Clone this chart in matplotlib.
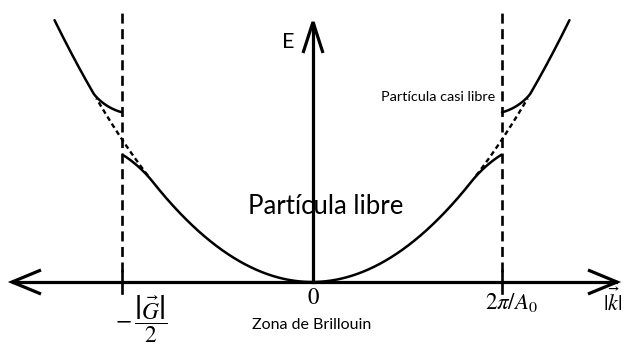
import numpy as np
import matplotlib
matplotlib.use("Agg")
import matplotlib.pyplot as plt

plt.rcParams['font.family'] = ['Lato', 'DejaVu Sans']
plt.rcParams['mathtext.fontset'] = 'stix'
plt.rcParams['lines.scale_dashes'] = False

# Band parameters (reduced units: zone boundary at k = 1, E = k^2)
zone_edges = [-1.0, 1.0]
gap_upper = 0.19      # rise of the upper band at the zone edge
gap_lower = 0.105     # drop of the lower band at the zone edge
reach_upper = 0.15    # k-distance over which the upper band rejoins the parabola
reach_lower = 0.16    # k-distance over which the lower band rejoins the parabola
shape_upper = 1.3
shape_lower = 1.8
k_top = 1.355         # where the drawn parabola ends
tick_positions = [-1.0, 0.0, 1.0]

# Pixel scale of one unit of k and E
PX_K = 190.0
PX_E = 142.6

def free(k):
    return k ** 2

def bend(d, gap, reach, shape):
    t = np.clip(1 - d / reach, 0, 1)
    return gap * t ** shape

fig = plt.figure(figsize=(6.26, 3.5), dpi=100)
ax = fig.add_axes([0, 0, 1, 1])
ax.set_xlim(-312 / PX_K, 314 / PX_K)
ax.set_ylim((282 - 350) / PX_E, 282 / PX_E)
ax.axis('off')

lw_axis = 2.3
lw_curve = 1.8

# Inner band: parabola with the lower band bending down at the zone edges
k_in = np.linspace(-1, 1, 800)
ax.plot(k_in, free(k_in) - bend(1 - np.abs(k_in), gap_lower, reach_lower, shape_lower),
        color='black', lw=lw_curve, solid_capstyle='butt')

# Outer bands: upper band starting above the gap, then back onto the parabola
for s in (-1, 1):
    k_out = s * np.linspace(1, k_top, 400)
    ax.plot(k_out, free(k_out) + bend(np.abs(k_out) - 1, gap_upper, reach_upper, shape_upper),
            color='black', lw=lw_curve, solid_capstyle='round')

    # Free-electron parabola through the gap region
    k_free = s * np.linspace(1 - reach_lower * 0.85, 1 + reach_upper * 0.9, 100)
    ax.plot(k_free, free(k_free), color='black', lw=1.7, linestyle=(0, (3.5, 2.5)))

# Zone boundaries
for kb in zone_edges:
    ax.plot([kb, kb], [(282 - 272) / PX_E, (282 - 12) / PX_E], color='black', lw=1.9,
            linestyle=(0, (7.2, 4.0)))
    ax.plot([kb, kb], [(282 - 293) / PX_E, (282 - 271) / PX_E], color='black', lw=1.9)

# Horizontal axis with open arrow heads at both ends
x_left, x_right = (12 - 312) / PX_K, (617 - 312) / PX_K
ax.plot([x_left + 1 / PX_K, x_right - 1 / PX_K], [0, 0], color='black', lw=lw_axis)
head_len, head_w = 29, 12
for tip, sgn in ((x_left, 1), (x_right, -1)):
    ax.plot([tip + sgn * head_len / PX_K, tip, tip + sgn * head_len / PX_K],
            [head_w / PX_E, 0, -head_w / PX_E], color='black', lw=lw_axis,
            solid_joinstyle='miter', solid_capstyle='butt')

# Vertical energy axis
x0 = 1 / PX_K
y_tip = (282 - 22) / PX_E
ax.plot([x0, x0], [0, y_tip - 2 / PX_E], color='black', lw=lw_axis)
ax.plot([x0 - 10 / PX_K, x0, x0 + 10 / PX_K],
        [y_tip - 31 / PX_E, y_tip, y_tip - 31 / PX_E], color='black', lw=lw_axis,
        solid_joinstyle='miter', solid_capstyle='butt')

# Labels
def px(x, y):
    return (x - 312) / PX_K, (282 - y) / PX_E

ax.text(*px(288, 42), 'E', fontsize=15.5, ha='center', va='center')
ax.text(*px(325.5, 206), 'Partícula libre', fontsize=18.5, ha='center', va='center')
ax.text(*px(438.5, 97), 'Partícula casi libre', fontsize=10.4, ha='center', va='center')
ax.text(*px(311.5, 325), 'Zona de Brillouin', fontsize=11.5, ha='center', va='center')

tick_labels = [r'$-\,\dfrac{\left|\vec{G}\right|}{2}$', r'$0$', r'$2\pi/A_0$']
tick_sizes = [17, 16.5, 16.5]
tick_offsets = [(141, 319), (313, 298), (511, 303)]
for kt, lab, fs, (xo, yo) in zip(tick_positions, tick_labels, tick_sizes, tick_offsets):
    ax.text(*px(xo, yo), lab, fontsize=fs, ha='center', va='center')

ax.text(*px(603, 301), r'$|\vec{k}|$', fontsize=16, ha='left', va='center')

fig.savefig('out.png', dpi=100)
